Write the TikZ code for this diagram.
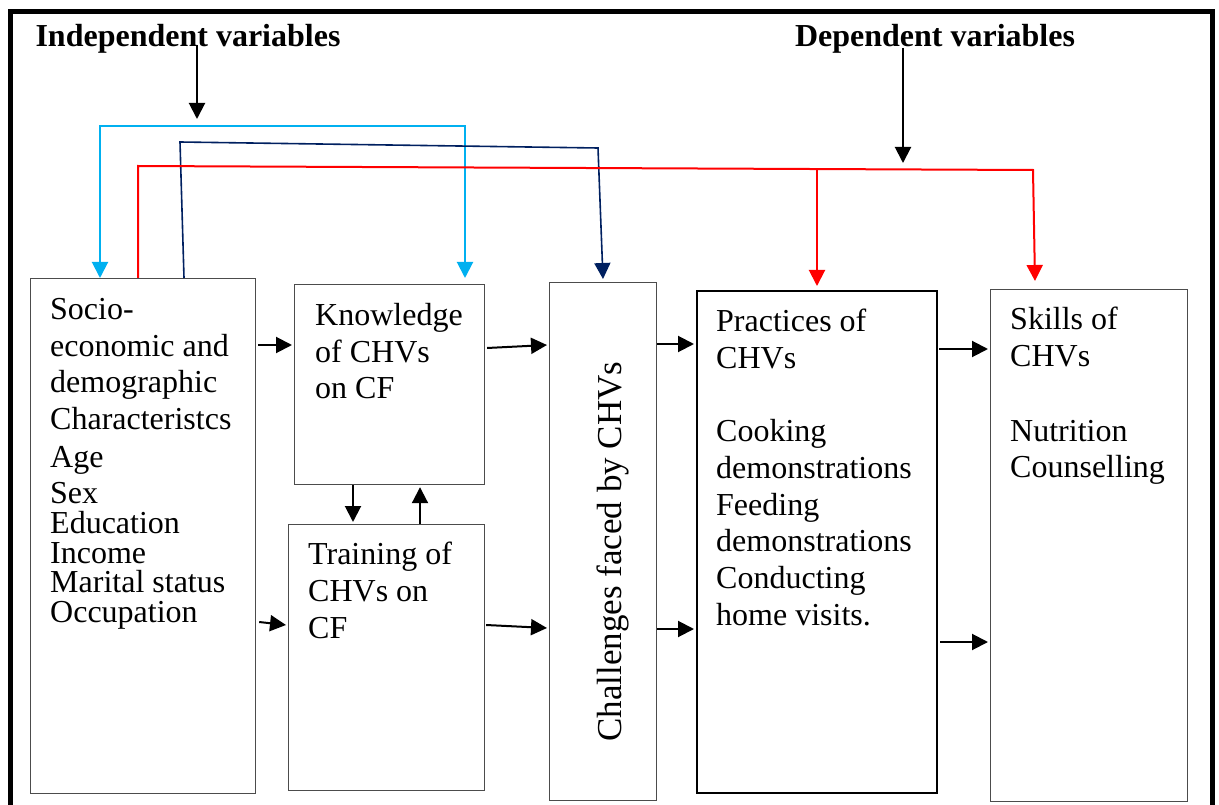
\documentclass[tikz,border=0pt]{standalone}
\usepackage{fontspec}
\setmainfont{Liberation Serif}
\usetikzlibrary{arrows.meta}

\definecolor{skyline}{HTML}{00B0F0}
\definecolor{navyline}{HTML}{002060}

\begin{document}
\begin{tikzpicture}[x=1pt,y=-1pt,
	box/.style={draw=black!70, line width=1.2pt, inner sep=0pt, anchor=north west},
	txt/.style={align=left, inner sep=0pt, anchor=north west, font=\fontsize{32}{36.7}\selectfont},
	head/.style={inner sep=0pt, font=\fontsize{32}{38}\selectfont\bfseries},
	con/.style={-{Triangle[length=16pt,width=16pt]}, line width=2pt}]
	\useasboundingbox (0,0) rectangle (1219,805);
	\draw[line width=5pt] (10,805)--(10,12)--(1212,12)--(1212,805);

	% headings
	\node[head] (indep) at (188,39) {Independent variables};
	\node[head] (dep) at (935,39) {Dependent variables};
	\coordinate (indtop) at (197,45);
	\coordinate (indbot) at (197,119);
	\coordinate (deptop) at (903,48);
	\coordinate (depbot) at (903,163);

	% boxes
	\node[box, minimum width=225pt, minimum height=515pt,
		label={[txt, xshift=20pt, yshift=-20pt]north west:{Socio-\\economic and\\demographic\\Characteristcs\\[1pt]Age\\Sex\\[-7pt]Education\\[-7pt]Income\\[-7pt]Marital status\\[-7pt]Occupation}}]
		(socio) at (30,278) {};
	\node[box, minimum width=190pt, minimum height=200pt,
		label={[txt, xshift=21pt, yshift=-19pt]north west:{Knowledge\\of CHVs\\on CF}}]
		(kno) at (294,284) {};
	\node[box, minimum width=196pt, minimum height=266pt,
		label={[txt, xshift=20pt, yshift=-18pt]north west:{Training of\\CHVs on\\CF}}]
		(train) at (288,524) {};
	\node[box, minimum width=107pt, minimum height=518pt] (chal) at (549,282) {};
	\node[rotate=90, inner sep=0pt, font=\fontsize{35}{40}\selectfont, xshift=-10pt, yshift=-10pt] (chaltxt) at (chal.center) {Challenges faced by CHVs};
	\node[box, draw=black, line width=2.4pt, minimum width=240pt, minimum height=502pt,
		label={[txt, xshift=20pt, yshift=-19pt]north west:{Practices of\\CHVs\\[36.7pt]Cooking\\demonstrations\\Feeding\\demonstrations\\Conducting\\home visits.}}]
		(prac) at (696,290) {};
	\node[box, minimum width=197pt, minimum height=512pt,
		label={[txt, xshift=20pt, yshift=-18pt]north west:{Skills of\\CHVs\\[38pt]Nutrition\\Counselling}}]
		(skill) at (990,289) {};

	% heading arrows
	\draw[con] (indtop) -- (indbot);
	\draw[con] (deptop) -- (depbot);

	% long connectors
	\draw[con, {Triangle[length=16pt,width=16pt]}-{Triangle[length=16pt,width=16pt]}, skyline] ([xshift=70pt]socio.north west) |- (465,126) -- ([xshift=171pt,yshift=6pt]kno.north west);
	\draw[con, navyline, line width=1.6pt] ([xshift=154pt]socio.north west) -- (180,142) -- (598,148) -- ([xshift=54pt,yshift=3pt]chal.north west);
	\draw[con, red] ([xshift=108pt]socio.north west) -- (138,166) -- (1033,170) -- ([xshift=45pt,yshift=8pt]skill.north west);
	\draw[con, red] (817,169.5) -- ([xshift=121pt,yshift=4pt]prac.north west);

	% short arrows
	\draw[con] ([xshift=2pt,yshift=-67pt]socio.north east) -- ([xshift=-2pt,yshift=-61pt]kno.north west);
	\draw[con] ([xshift=3pt,yshift=-344pt]socio.north east) -- ([xshift=-2pt,yshift=-101pt]train.north west);
	\draw[con] ([xshift=2pt,yshift=-64pt]kno.north east) -- ([xshift=-2pt,yshift=-63pt]chal.north west);
	\draw[con] ([xshift=1pt,yshift=-101pt]train.north east) -- ([xshift=-2pt,yshift=-346pt]chal.north west);
	\draw[con] ([xshift=59pt]kno.south west) -- ([xshift=65pt,yshift=2pt]train.north west);
	\draw[con] ([xshift=132pt]train.north west) -- ([xshift=126pt,yshift=-2pt]kno.south west);
	\draw[con] ([yshift=-62pt]chal.north east) -- ([xshift=-2pt,yshift=-54pt]prac.north west);
	\draw[con] ([yshift=-347pt]chal.north east) -- ([xshift=-2pt,yshift=-339pt]prac.north west);
	\draw[con] ([xshift=1pt,yshift=-59pt]prac.north east) -- ([xshift=-2pt,yshift=-60pt]skill.north west);
	\draw[con] ([xshift=2pt,yshift=-352pt]prac.north east) -- ([xshift=-2pt,yshift=-353pt]skill.north west);
\end{tikzpicture}
\end{document}
